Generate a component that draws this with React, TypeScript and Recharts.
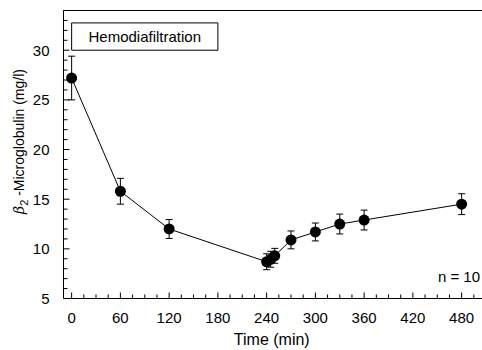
import React from "react";
import {
  ComposedChart,
  Line,
  XAxis,
  YAxis,
  ErrorBar,
  ReferenceLine,
  ReferenceArea,
  Label,
} from "recharts";

const times = [0, 60, 120, 240, 245, 250, 270, 300, 330, 360, 480];
const means = [27.2, 15.8, 12.0, 8.7, 8.95, 9.3, 10.9, 11.7, 12.5, 12.9, 14.5];
const sds = [2.2, 1.3, 0.95, 0.8, 0.8, 0.75, 0.9, 0.9, 1.0, 1.0, 1.05];

const xTicks = Array.from({ length: 35 }, (_, i) => i * 15);
const yTicks = Array.from({ length: 30 }, (_, i) => 5 + i);

const legendText = "Hemodiafiltration";
const nText = "n = 10";

const data = times.map((t, i) => ({ t, v: means[i], err: [sds[i], sds[i]] }));

const FONT = "'Liberation Sans', Arial, Helvetica, sans-serif";

const XTick = (props: any) => {
  const { x, y, payload } = props;
  const major = payload.value % 60 === 0;
  return (
    <g>
      <line x1={x} x2={x} y1={y} y2={y - (major ? 6 : 4)} stroke="#000" strokeWidth={1} />
      {major && payload.value <= 480 && (
        <text x={x} y={y + 24} textAnchor="middle" fontSize={15} fontFamily={FONT} fill="#000">
          {payload.value}
        </text>
      )}
    </g>
  );
};

const YTick = (props: any) => {
  const { x, y, payload } = props;
  const major = payload.value % 5 === 0;
  return (
    <g>
      <line x1={x} x2={x + (major ? 6 : 4)} y1={y} y2={y} stroke="#000" strokeWidth={1} />
      {major && (
        <text x={x - 14} y={y} dy="0.36em" textAnchor="end" fontSize={15} fontFamily={FONT} fill="#000">
          {payload.value}
        </text>
      )}
    </g>
  );
};

const YTitle = (props: any) => {
  const { viewBox } = props;
  const cx = viewBox.x + 24;
  const cy = viewBox.y + viewBox.height / 2 - 13;
  return (
    <text
      x={cx}
      y={cy}
      transform={`rotate(-90 ${cx} ${cy})`}
      textAnchor="middle"
      fontSize={14}
      fontFamily={FONT}
      fill="#000"
    >
      <tspan fontStyle="italic" fontFamily="'DejaVu Serif', serif">β</tspan>
      <tspan fontSize={11} dy={4}>2</tspan>
      <tspan dy={-4}> -Microglobulin (mg/l)</tspan>
    </text>
  );
};

const XTitle = (props: any) => {
  const { viewBox } = props;
  return (
    <text
      x={viewBox.x + viewBox.width / 2 - 3}
      y={viewBox.y + 46}
      textAnchor="middle"
      fontSize={16}
      fontFamily={FONT}
      fill="#000"
    >
      Time (min)
    </text>
  );
};

export default function App() {
  return (
    <div
      style={{
        position: "absolute",
        left: 0,
        top: 0,
        width: 482,
        height: 350,
        overflow: "hidden",
        background: "#fff",
      }}
    >
      <ComposedChart
        width={500}
        height={350}
        data={data}
        margin={{ top: 10.5, right: 14, left: 0, bottom: 0 }}
      >
        <XAxis
          dataKey="t"
          type="number"
          domain={[-10, 510]}
          ticks={xTicks}
          interval={0}
          tickLine={false}
          tickSize={0}
          tickMargin={0}
          tick={<XTick />}
          axisLine={{ stroke: "#000", strokeWidth: 1 }}
          height={51.5}
          allowDataOverflow
        >
          <Label content={<XTitle />} />
        </XAxis>
        <YAxis
          type="number"
          domain={[5, 34]}
          ticks={yTicks}
          interval={0}
          tickLine={false}
          tickSize={0}
          tickMargin={0}
          tick={<YTick />}
          axisLine={{ stroke: "#000", strokeWidth: 1 }}
          width={63.5}
          allowDataOverflow
        >
          <Label content={<YTitle />} />
        </YAxis>
        <ReferenceLine y={34} stroke="#000" strokeWidth={1} />
        <ReferenceArea
          x1={0}
          x2={180}
          y1={30}
          y2={32.75}
          fill="#fff"
          fillOpacity={1}
          stroke="#000"
          strokeWidth={1}
        >
          <Label
            value={legendText}
            position="center"
            fontSize={15}
            fontFamily={FONT}
            fill="#000"
          />
        </ReferenceArea>
        <ReferenceLine
          y={7.2}
          stroke="none"
          label={{
            value: nText,
            position: "insideRight",
            fontSize: 15,
            fontFamily: FONT,
            fill: "#000",
            offset: 6,
          }}
        />
        <Line
          dataKey="v"
          stroke="#000"
          strokeWidth={1}
          isAnimationActive={false}
          dot={{ r: 5.5, fill: "#000", stroke: "#000", strokeWidth: 0 }}
          activeDot={false}
        >
          <ErrorBar dataKey="err" width={3.5} stroke="#000" strokeWidth={1} direction="y" />
        </Line>
      </ComposedChart>
    </div>
  );
}
